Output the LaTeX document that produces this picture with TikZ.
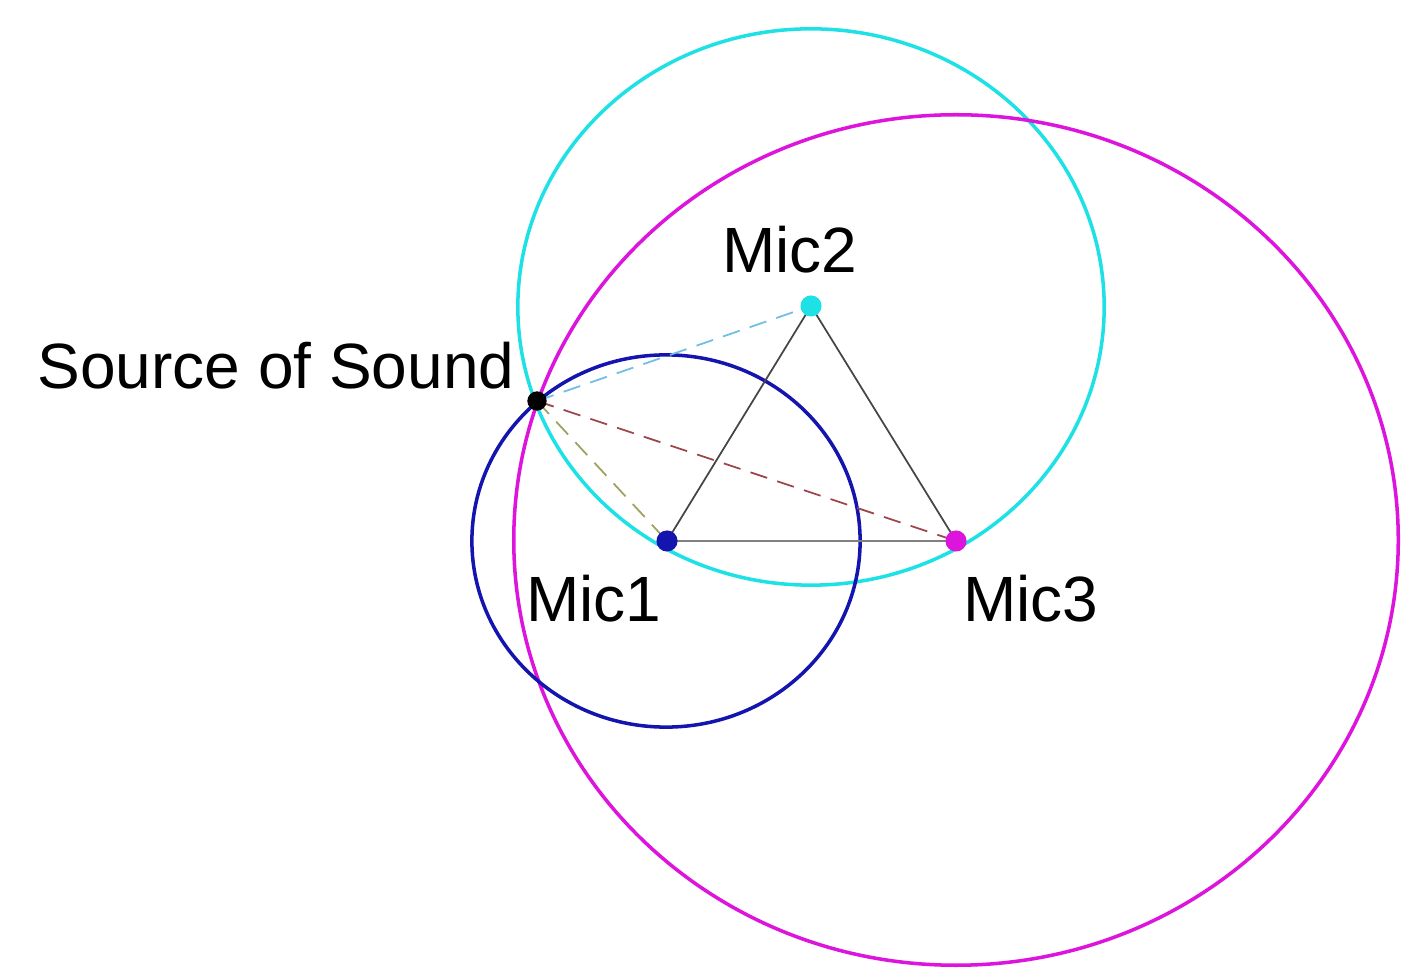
\documentclass[tikz,border=0pt]{standalone}
\usepackage{fontspec}
\setmainfont{Liberation Sans}
\usetikzlibrary{shapes.geometric}
\definecolor{RingOne}  {RGB}{20,20,175}
\definecolor{RingTwo}  {RGB}{30,225,230}
\definecolor{RingThree}{RGB}{220,20,220}
\definecolor{DashOne}  {RGB}{160,160,95}
\definecolor{DashTwo}  {RGB}{110,190,230}
\definecolor{DashThree}{RGB}{155,70,75}
\definecolor{EdgeCol}  {RGB}{70,70,70}
\tikzset{
  ring/.style={ellipse,draw=#1,line width=1pt,inner sep=0pt,outer sep=0pt},
  micdot/.style={circle,fill=#1,minimum size=6pt,inner sep=0pt},
  srcdot/.style={circle,fill=black,minimum size=5.5pt,inner sep=0pt},
  path_ray/.style={draw=#1,dash pattern=on 5pt off 3pt,line width=0.5pt},
  edge_tri/.style={draw=EdgeCol,line width=0.5pt},
  lbl/.style={font=\fontsize{18.2}{20}\selectfont,inner sep=0pt},
}
\begin{document}
\begin{tikzpicture}[x=0.01cm,y=-0.01cm]

\useasboundingbox (0,0) rectangle (1401,968);

% source and microphones
\coordinate (src) at (537,401);
\coordinate (m1)  at (667,541);
\coordinate (m2)  at (811,306);
\coordinate (m3)  at (956,541);

% rings round each mic, through the source
\node[ring=RingTwo,  minimum width=5.86cm,minimum height=5.56cm] (c2) at (811,307) {};
\node[ring=RingThree,minimum width=8.84cm,minimum height=8.50cm] (c3) at (956,540) {};
\node[ring=RingOne,  minimum width=3.88cm,minimum height=3.72cm] (c1) at (666,541) {};

% paths source -> mics
\draw[path_ray=DashTwo]  (src)--(m2);
\draw[path_ray=DashThree](src)--(m3);
\draw[path_ray=DashOne]  (src)--(m1);

% mic triangle
\draw[edge_tri](m1)--(m2)--(m3);
\draw[edge_tri,draw=gray,line width=0.8pt](m1)--(m3);

% dots
\node[micdot=RingOne]   (d1) at (m1) {};
\node[micdot=RingTwo]   (d2) at (m2) {};
\node[micdot=RingThree] (d3) at (m3) {};
\node[srcdot]           (ds) at (src){};

% labels
\node[lbl] (l2) at (790,250) {Mic2};
\node[lbl] (l1) at (594,599) {Mic1};
\node[lbl] (l3) at (1031,599){Mic3};
\node[lbl] (ls) at (276,366) {Source of Sound};

\end{tikzpicture}
\end{document}
